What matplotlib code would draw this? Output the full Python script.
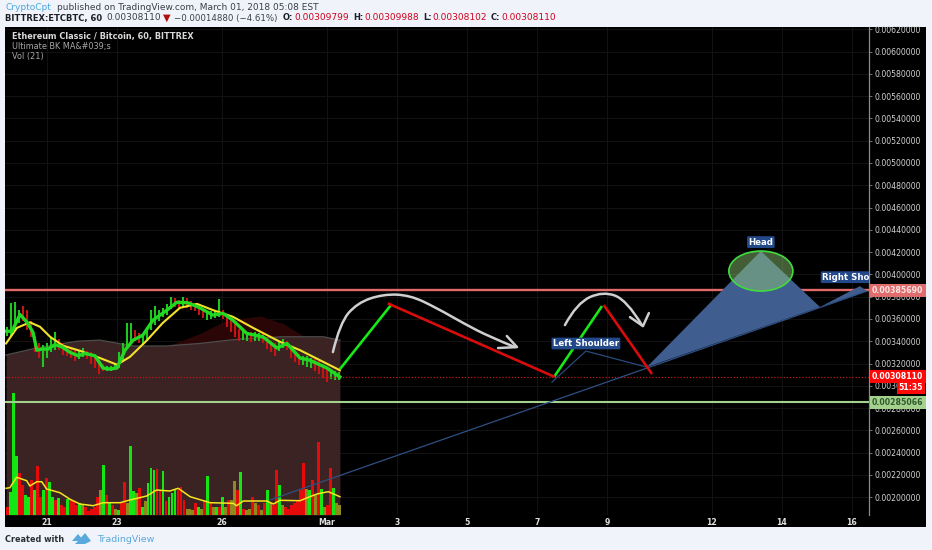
import numpy as np
import matplotlib
matplotlib.use("Agg")
import matplotlib.pyplot as plt
from matplotlib.path import Path
from matplotlib.patches import PathPatch, Ellipse, Polygon, Rectangle

U = 1e-5  # price values below are in units of 0.00001 BTC

# x axis: days since 21 Feb
x_ticks = [0, 2, 5, 8, 10, 12, 14, 16, 19, 21, 23]
x_labels = ["21", "23", "26", "Mar", "3", "5", "7", "9", "12", "14", "16"]
y_ticks = list(range(200, 621, 20))

resistance = 385.690
support = 285.066
last_price = 308.110

candle_high = [353,374,375,368,372,368,358,345,338,337,
               338,344,348,342,338,335,333,332,332,334,
               331,330,329,323,320,318,318,320,330,338,
               356,356,350,347,346,352,368,372,368,370,
               373,380,379,377,380,379,376,374,372,368,
               367,367,368,378,368,364,360,356,351,350,
               348,348,348,347,347,344,340,338,339,342,
               340,335,331,329,327,327,325,324,322,320,
               317,315,313,312]
candle_low = [345,345,350,356,358,350,344,330,325,317,
              325,330,332,332,328,327,325,322,324,326,
              324,320,316,311,313,313,313,314,316,322,
              335,338,340,338,337,340,350,355,358,362,
              364,369,371,370,371,370,368,367,364,361,
              359,360,361,362,360,353,348,344,340,341,
              340,339,340,340,338,333,330,327,331,334,
              332,325,321,319,319,317,316,313,311,307,
              303,306,305,305]
candle_dir = list("ggggrrrrrg" "gggrrrrrgg" "rrrrrggggg" "ggrrgggggg"
                  "ggrrgrrrrr" "ggggrrrrrg" "grggrrrrgg" "rrrrgggrrr" "rggg")

fast_days = [-1.17,-1.0,-.77,-.57,-.4,-.29,-.14,.03,.23,.43,.66,.89,1.09,1.37,1.6,1.8,2.0,2.23,2.46,2.74,3.03,3.43,3.71,4.03,4.37,4.74,5.03,5.31,5.71,6.17,6.57,6.86,7.23,7.51,8.0,8.37]
fast_ma = [349,349,364,357,348,332,333,333,337,335,330,327,329,327,316,315,316,332,341,345.5,359,368,375,374.5,370,363.5,365,359,347,344,334,338,325,323,316,308]

slow_days = [-1.17,-.86,-.49,-.2,.09,.46,.94,1.51,2,2.37,2.86,3.31,3.8,4.29,4.74,5.31,5.89,6.66,7.23,7.8,8.37]
slow_ma = [338,352,357,353,344,336,331.5,325,319,326,341,356.5,370,373.5,368,362,352,339.5,332,323,314]

cloud_low_days = [-1.17,-.29,.86,1.51,2.46,3.4,4.37,5.51,6.74,7.89,8.37]
cloud_low = [327.6,334,340,341,335.7,335.7,338,342,344,344,341]
cloud_high_days = [3.51,4.37,5.14,6.09,6.74,7.31]
cloud_high = [336.5,347,359,362.6,356,345]

volume = [8,23,122,59,42,30,20,18,35,25,
          49,18,25,37,33,18,15,17,10,8,
          16,15,14,10,12,10,8,4,6,8,
          18,25,50,20,12,10,6,5,12,33,
          12,69,24,22,27,8,14,32,47,45,
          46,25,44,14,18,22,25,25,28,15,
          6,6,5,12,8,6,15,39,12,8,
          8,8,18,8,15,15,34,25,43,6,
          5,6,18,12,10,5,12,25,12,10,
          45,30,10,8,6,10,12,15,25,52,
          26,25,35,20,73,26,8,10,47,27,
          12,10]
volume_dir = list("rgggrrggrg" "rrgrggrgrr" "grrrgorrrr" "rogrgrogrr"
                  "oggorgoggg" "rrgrgggrrr" "ooorgorgro" "grgoroorgr"
                  "oorororgor" "rgorrrrrrr" "ogrorgorrg" "oo")

vol_ma_days = [-1.17,-1.06,-.87,-.58,-.49,-.29,-.15,-.01,.37,.66,.94,1.32,1.61,2.09,2.37,2.85,3.13,3.51,3.75,4.09,4.66,5.32,5.42,5.61,6.28,6.47,6.66,7.23,7.71,8.04,8.37]
vol_ma = [26.7,27.3,37.7,34.3,29,33.3,33.3,26,22.3,15.7,11,9.3,12.3,12.3,15,19,25,24,26.7,18.3,12.3,11.7,9.3,14,14,11,14.7,14.3,21,23.3,18.3]

green_legs = [([8.37,9.83],[315,372.5]), ([14.49,15.86],[308,371.6])]
red_legs = [([9.74,14.51],[374,308]), ([15.91,17.29],[372.5,310.6])]

arrow1_days = [8.17,8.37,8.86,9.6,10.37,11.14,11.89,12.66,13.37]
arrow1_vals = [330.3,356.3,374.3,382.3,381.4,369.8,356.3,343.8,334.8]
arrow1_head_days = [13.14,13.43,12.89]
arrow1_head_vals = [344.7,334.8,333.9]
arrow2_days = [14.8,15.14,15.89,16.57,17.0]
arrow2_vals = [354.5,374.3,385,377,354.5]
arrow2_head_days = [16.66,17.03,17.2]
arrow2_head_vals = [361.7,353.6,365.3]

base_days = [6.37,23.43]
base_vals = [197.6,385]
lshoulder_days = [14.43,15.4,17.14]
lshoulder_vals = [303.4,331.2,316.8]
head_days = [17.14,20.4,22.09]
head_vals = [316.8,420.9,370.7]
rshoulder_days = [22.09,23.23,23.43]
rshoulder_vals = [370.7,389.5,385]

# ---------------------------------------------------------------------
W, H = 932, 550
BG = "#f0f3fa"
fig = plt.figure(figsize=(W/100, H/100), dpi=100, facecolor=BG)
plt.rcParams["font.family"] = ["DejaVu Sans"]

def fx(x): return x/W
def fy(y): return 1-y/H

fig.add_artist(Rectangle((fx(5), fy(527)), (926-5)/W, (527-27)/H, transform=fig.transFigure,
                         facecolor="black", edgecolor="none", zorder=-5))

rect = [fx(5), fy(515), (869-5)/W, (515-27)/H]
XL = (-1.2, 23.49)
YL = (184.1*U, 622*U)

ax = fig.add_axes(rect, zorder=1)
ax.set_facecolor("black")
axv = fig.add_axes(rect, zorder=2); axv.patch.set_visible(False); axv.axis("off")
axt = fig.add_axes(rect, zorder=3); axt.patch.set_visible(False); axt.axis("off")
for a in (ax, axt):
    a.set_xlim(*XL); a.set_ylim(*YL)
axv.set_xlim(*XL); axv.set_ylim(0, 488)

# base axes: grid, ticks, area
ax.set_axisbelow(True)
ax.grid(True, color="#131313", lw=0.7)
ax.set_xticks(x_ticks); ax.set_xticklabels(x_labels)
ax.set_yticks([v*U for v in y_ticks])
ax.set_yticklabels([f"{v*U:.8f}" for v in y_ticks])
ax.yaxis.tick_right()
ax.tick_params(axis="y", colors="#d2d2d2", labelsize=5.6, length=2, width=0.6, pad=2, color="#888888")
ax.tick_params(axis="x", colors="#e0e0e0", labelsize=5.6, length=0, pad=2)
for lab in ax.get_xticklabels():
    lab.set_fontweight("bold")
for s in ("top", "left", "bottom"):
    ax.spines[s].set_visible(False)
ax.spines["right"].set_color("#8a8a8a"); ax.spines["right"].set_linewidth(0.9)

ax.fill_between(cloud_high_days, [v*U for v in cloud_high], 300*U, color="#2b0606", lw=0, zorder=1)
ax.fill_between(cloud_low_days, [v*U for v in cloud_low], YL[0], color="#3b2323", lw=0, zorder=2)
ax.plot(cloud_low_days, [v*U for v in cloud_low], color="#4f4a4a", lw=1.0, zorder=2.2)

# volumes
vol_colors = {"g": "#14e614", "r": "#e60a0a", "o": "#8f8a1e"}
vol_days = np.linspace(-1.14, 8.37, len(volume))
axv.bar(vol_days, volume, width=0.085, color=[vol_colors[c] for c in volume_dir], lw=0)
axv.plot(vol_ma_days, vol_ma, color="#f5e61e", lw=1.1)

# candles
n = len(candle_high)
cdays = np.linspace(-1.14, 8.34, n)
for d, hi, lo, c in zip(cdays, candle_high, candle_low, candle_dir):
    axt.plot([d, d], [lo*U, hi*U], color={"g": "#1fc81f", "r": "#c81414"}[c], lw=1.5, zorder=3, solid_capstyle="butt")
axt.plot(slow_days, [v*U for v in slow_ma], color="#f2e22a", lw=1.5, zorder=4)
axt.plot(fast_days, [v*U for v in fast_ma], color="#22d822", lw=2.4, zorder=4.5)

# levels
axt.axhline(resistance*U, color="#e26a6a", lw=1.7, zorder=3)
axt.axhline(support*U, color="#a3d18e", lw=1.5, zorder=3)
axt.axhline(last_price*U, color="#c01818", lw=0.9, ls=(0, (1, 1.5)), zorder=3)

# pattern
BLUE = "#3f5d8f"
for dd, vv in ((head_days, head_vals), (rshoulder_days, rshoulder_vals)):
    axt.add_patch(Polygon(np.column_stack([dd, np.array(vv)*U]), closed=True, facecolor=BLUE, edgecolor="none", zorder=5))
axt.plot(base_days, [v*U for v in base_vals], color="#2f5083", lw=0.9, zorder=5)
axt.plot(lshoulder_days, [v*U for v in lshoulder_vals], color="#2a4a7c", lw=0.9, zorder=5)
axt.add_patch(Ellipse((20.4, 403*U), 1.83, 35.9*U, facecolor=(150/255, 210/255, 120/255, 0.45),
                      edgecolor="#3fdc3f", lw=1.2, zorder=6))

# legs
for dd, vv in green_legs:
    axt.plot(dd, [v*U for v in vv], color="#17e817", lw=1.9, zorder=7, solid_capstyle="butt")
for dd, vv in red_legs:
    axt.plot(dd, [v*U for v in vv], color="#d80c0c", lw=1.9, zorder=7, solid_capstyle="butt")

# hand-drawn arrows
def smooth(days, vals):
    pts = np.column_stack([days, np.array(vals)*U])
    verts = [pts[0]]; codes = [Path.MOVETO]
    for i in range(1, len(pts)-1):
        mid = (pts[i]+pts[i+1])/2 if i < len(pts)-2 else pts[i+1]
        verts += [pts[i], mid]; codes += [Path.CURVE3, Path.CURVE3]
    return Path(verts, codes)
GREY = "#cfcfcf"
for dd, vv, hd, hv in ((arrow1_days, arrow1_vals, arrow1_head_days, arrow1_head_vals),
                       (arrow2_days, arrow2_vals, arrow2_head_days, arrow2_head_vals)):
    axt.add_patch(PathPatch(smooth(dd, vv), facecolor="none", edgecolor=GREY, lw=1.8, zorder=8, capstyle="round"))
    axt.plot(hd, [v*U for v in hv], color=GREY, lw=1.8, zorder=8, solid_capstyle="round")

# pattern labels
lab = dict(color="white", fontsize=6.2, fontweight="bold", ha="center", va="center", zorder=9,
           bbox=dict(boxstyle="round,pad=0.16", facecolor="#24498a", edgecolor="none"))
axt.text(15.4, 338*U, "Left Shoulder", **lab)
axt.text(20.4, 429*U, "Head", **lab)
axt.text(22.15, 397.5*U, "Right Shoulder", **{**lab, "ha": "left"}, clip_on=True)

# price labels on scale
tr = axt.get_yaxis_transform()
def scale_label(v, text, fc, tc):
    axt.text(1.0036, v*U, text, transform=tr, fontsize=5.6, fontweight="bold", color=tc, ha="left", va="center",
             zorder=10, clip_on=False, bbox=dict(boxstyle="square,pad=0.26", facecolor=fc, edgecolor="none"))
scale_label(resistance, "0.00385690", "#e06c6c", "#fbe6e6")
scale_label(support, "0.00285066", "#a3d18e", "#2f5a2a")
scale_label(last_price, "0.00308110", "#ff0808", "white")
fig.text(fx(911), fy(387.5), "51:35", color="white", fontsize=5.6, fontweight="bold", ha="center", va="center",
         zorder=20, bbox=dict(boxstyle="square,pad=0.26", facecolor="#ff0808", edgecolor="none"))

# chart legend
fig.text(fx(12), fy(36), "Ethereum Classic / Bitcoin, 60, BITTREX", color="#d8d8d8", fontsize=5.9, fontweight="bold", va="center", zorder=20)
fig.text(fx(12), fy(47), "Ultimate BK MA&#039;s", color="#a8a8a8", fontsize=5.9, va="center", zorder=20)
fig.text(fx(12), fy(57), "Vol (21)", color="#a8a8a8", fontsize=5.9, va="center", zorder=20)

# header
HDR = 6.5
DARK = "#3a3f4a"; RED = "#d0021b"
fig.text(fx(5), fy(7), "CryptoCpt", color="#4aa8e0", fontsize=HDR, va="center")
fig.text(fx(57), fy(7), "published on TradingView.com, March 01, 2018 05:08 EST", color=DARK, fontsize=HDR, va="center")
y2 = fy(18)
fig.text(fx(5), y2, "BITTREX:ETCBTC, 60", color="#1c1f26", fontsize=6.0, fontweight="bold", va="center")
fig.text(fx(106), y2, "0.00308110", color=DARK, fontsize=HDR, va="center")
fig.text(fx(163), y2, "▼", color="#b01010", fontsize=HDR+0.6, va="center")
fig.text(fx(174), y2, "\u22120.00014880 (\u22124.61%)", color=DARK, fontsize=6.2, va="center")
for x, lb, xv, val in ((283, "O:", 294, "0.00309799"), (353, "H:", 364, "0.00309988"),
                       (423, "L:", 432, "0.00308102"), (491, "C:", 501, "0.00308110")):
    fig.text(fx(x), y2, lb, color="#1c1f26", fontsize=6.0, fontweight="bold", va="center")
    fig.text(fx(xv), y2, val, color=RED, fontsize=HDR, va="center")

# footer
fig.text(fx(5), fy(539), "Created with", color="#2b2f38", fontsize=5.9, fontweight="bold", va="center")
fig.text(fx(97), fy(539), "TradingView", color="#5aa9dc", fontsize=6.8, va="center")
for pts in ([(72, 541), (78, 534), (84, 541)], [(78, 541), (85, 533), (91, 541), (85, 544), (75, 544)]):
    fig.add_artist(Polygon([(fx(a), fy(b)) for a, b in pts], closed=True, transform=fig.transFigure,
                           facecolor="#5aa9dc", edgecolor="none"))

fig.savefig("out.png", dpi=100, facecolor=BG)
